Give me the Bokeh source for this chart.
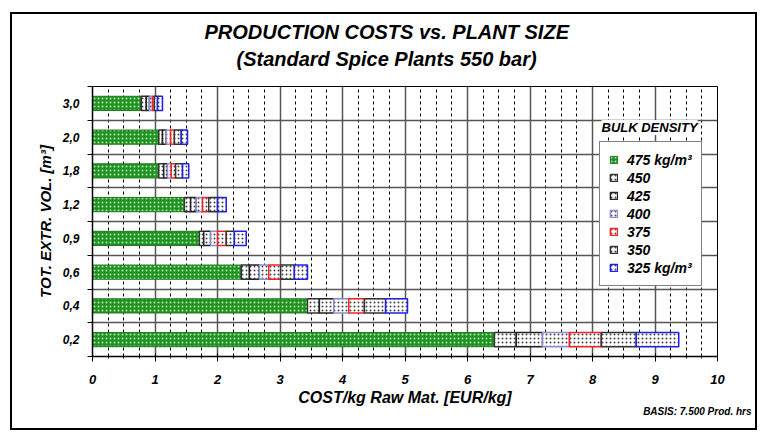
from bokeh.plotting import figure
from bokeh.models import (Range1d, FixedTicker, Label, Legend, LegendItem, Title,
                          ColumnDataSource)
from bokeh.embed import file_html
from bokeh.resources import INLINE

# ---- data ----
volumes = ["0,2", "0,4", "0,6", "0,9", "1,2", "1,8", "2,0", "3,0"]   # bottom -> top
densities = ["475 kg/m³", "450", "425", "400", "375", "350", "325 kg/m³"]
cost_475 = [6.43, 3.44, 2.38, 1.71, 1.47, 1.06, 1.06, 0.78]
cost_450 = [6.78, 3.63, 2.51, 1.78, 1.57, 1.14, 1.12, 0.86]
cost_425 = [7.20, 3.86, 2.67, 1.89, 1.66, 1.20, 1.18, 0.91]
cost_400 = [7.63, 4.10, 2.82, 2.00, 1.76, 1.26, 1.25, 0.96]
cost_375 = [8.14, 4.35, 3.01, 2.14, 1.86, 1.33, 1.31, 0.99]
cost_350 = [8.70, 4.69, 3.23, 2.27, 2.00, 1.44, 1.42, 1.04]
cost_325 = [9.38, 5.04, 3.44, 2.46, 2.14, 1.54, 1.52, 1.12]
x_ticks = list(range(0, 11))

series = [cost_475, cost_450, cost_425, cost_400, cost_375, cost_350, cost_325]
line_colors = ["#1e7a1e", "#333333", "#222222", "#8c8cd0", "#ff2020", "#333333", "#1f1fee"]

FONT = "Liberation Sans"
INK = "black"

p = figure(width=758, height=432, output_backend="svg", toolbar_location=None,
           x_range=Range1d(0, 10), y_range=Range1d(0, len(volumes)),
           min_border_left=92, min_border_right=41, min_border_top=86, min_border_bottom=76)
p.background_fill_color = "white"
p.border_fill_alpha = 0
p.outline_line_color = "black"
p.outline_line_width = 1
# outer frame of the whole chart, drawn as host background lines (visible through the transparent border area)
p.stylesheets = [""":host {
  background-color: white;
  background-image: linear-gradient(#000,#000), linear-gradient(#000,#000),
                    linear-gradient(#000,#000), linear-gradient(#000,#000);
  background-repeat: no-repeat;
  background-position: 10px 12px, 10px 12px, 10px 428px, 755px 12px;
  background-size: 747px 2px, 2px 418px, 747px 2px, 2px 418px;
}"""]

ys = [i + 0.5 for i in range(len(volumes))]

# titles (first added = nearest the frame)
sub = Title(text="(Standard Spice Plants 550 bar)", align="left", offset=144,
            text_font=FONT, text_font_style="bold italic", text_font_size="20px",
            text_color=INK, standoff=33)
main = Title(text="PRODUCTION COSTS vs. PLANT SIZE", align="left", offset=112,
             text_font=FONT, text_font_style="bold italic", text_font_size="20px",
             text_color=INK, standoff=-26)
p.add_layout(sub, "above")
p.add_layout(main, "above")

# x axis
p.xaxis.ticker = FixedTicker(ticks=x_ticks, minor_ticks=[i / 4 for i in range(41)])
p.xaxis.axis_line_width = 1.5
p.xaxis.axis_line_color = INK
p.xaxis.major_tick_line_color = INK
p.xaxis.minor_tick_line_color = INK
p.xaxis.major_tick_in = 3
p.xaxis.major_tick_out = 5
p.xaxis.minor_tick_in = 0
p.xaxis.minor_tick_out = 2
p.xaxis.major_label_standoff = 13
p.xaxis.major_label_text_font = FONT
p.xaxis.major_label_text_font_style = "bold italic"
p.xaxis.major_label_text_font_size = "13px"
p.xaxis.major_label_text_color = INK
p.xaxis.axis_label = "COST/kg Raw Mat. [EUR/kg]"
p.xaxis.axis_label_text_font = FONT
p.xaxis.axis_label_text_font_style = "bold italic"
p.xaxis.axis_label_text_font_size = "16px"
p.xaxis.axis_label_text_color = INK
p.xaxis.axis_label_standoff = 2

p.add_layout(Title(text="BASIS: 7.500 Prod. hrs", align="right", offset=-34,
                   text_font=FONT, text_font_style="bold italic", text_font_size="10px",
                   text_color=INK, standoff=-9), "below")

# y axis
p.yaxis.ticker = FixedTicker(ticks=ys, minor_ticks=list(range(len(volumes) + 1)))
p.yaxis.major_label_overrides = {y: v for y, v in zip(ys, volumes)}
p.yaxis.axis_line_width = 1.5
p.yaxis.axis_line_color = INK
p.yaxis.minor_tick_line_color = INK
p.yaxis.major_tick_in = 0
p.yaxis.major_tick_out = 0
p.yaxis.minor_tick_in = 0
p.yaxis.minor_tick_out = 5
p.yaxis.major_label_standoff = 8
p.yaxis.major_label_text_font = FONT
p.yaxis.major_label_text_font_style = "bold italic"
p.yaxis.major_label_text_font_size = "12px"
p.yaxis.major_label_text_color = INK
p.yaxis.axis_label = "TOT. EXTR. VOL. [m³]"
p.yaxis.axis_label_text_font = FONT
p.yaxis.axis_label_text_font_style = "bold italic"
p.yaxis.axis_label_text_font_size = "15px"
p.yaxis.axis_label_text_color = INK
p.yaxis.axis_label_standoff = 6

# grids
p.xgrid.ticker = FixedTicker(ticks=x_ticks, minor_ticks=[i / 4 for i in range(41)])
p.xgrid.grid_line_color = "#555555"
p.xgrid.grid_line_width = 1.5
p.xgrid.minor_grid_line_color = "black"
p.xgrid.minor_grid_line_dash = "3 3"
p.xgrid.minor_grid_line_width = 1
p.ygrid.ticker = FixedTicker(ticks=list(range(1, len(volumes))))
p.ygrid.grid_line_color = "#555555"
p.ygrid.grid_line_width = 1.5

# bars
items = []
prev = [0.0] * len(volumes)
for k, (vals, lc, name) in enumerate(zip(series, line_colors, densities)):
    src = ColumnDataSource(dict(y=ys, left=prev, right=vals))
    if k == 0:
        r = p.hbar(y="y", left="left", right="right", height=0.42, source=src,
                   fill_color="#1f921f", line_color=lc, line_width=1,
                   hatch_pattern=".", hatch_color="#b8e8b8", hatch_scale=4, hatch_weight=1)
    else:
        r = p.hbar(y="y", left="left", right="right", height=0.42, source=src,
                   fill_color="white", line_color=lc, line_width=1.5,
                   hatch_pattern=".", hatch_color="#444444", hatch_scale=4, hatch_weight=1)
    items.append(LegendItem(label=name, renderers=[r]))
    prev = vals

legend = Legend(items=items, location=(507, 70), orientation="vertical",
                label_text_font=FONT, label_text_font_style="bold italic",
                label_text_font_size="14px", label_text_color=INK,
                glyph_width=9, glyph_height=9,
                label_height=17, spacing=1, padding=9, label_standoff=9,
                border_line_color="black", border_line_width=1,
                background_fill_color="white", background_fill_alpha=1.0)
p.add_layout(legend)

p.add_layout(Label(x=509, y=229, x_units="screen", y_units="screen", text="BULK DENSITY",
                   text_align="left", text_baseline="middle", text_font=FONT,
                   text_font_style="bold italic", text_font_size="13px", text_color=INK,
                   background_fill_color="white"))

open("out.html", "w").write(file_html(p, INLINE))
